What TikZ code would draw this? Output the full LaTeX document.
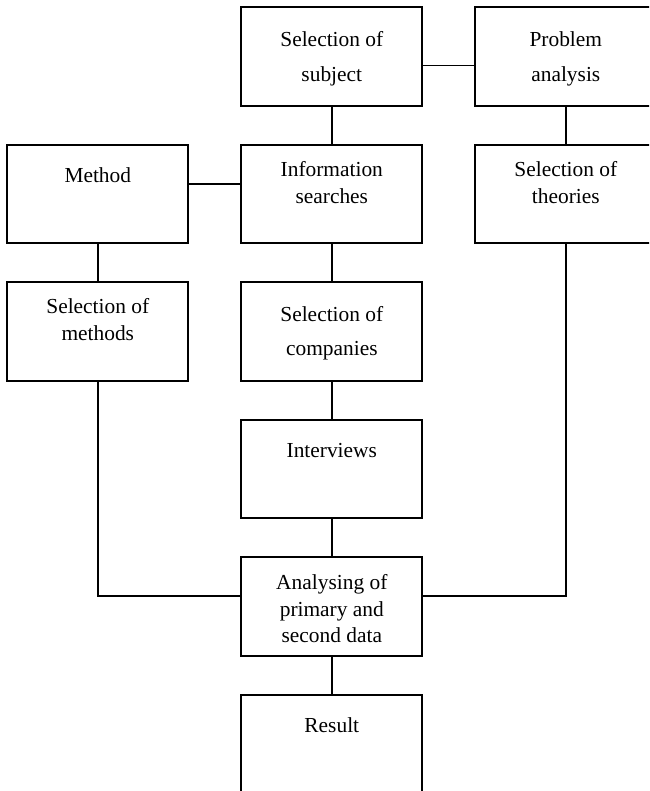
\documentclass[tikz,border=0pt]{standalone}
\usepackage{fontspec}
\setmainfont{Liberation Serif}
\usetikzlibrary{positioning}

\begin{document}
\begin{tikzpicture}
[-,x=1pt,y=-1pt,%
  box/.style={shape=rectangle,draw,line width=1.7pt,outer sep=0pt,inner sep=0pt,%
    minimum width=181pt,minimum height=98.5pt},%
  txt/.style={anchor=base,yshift=-#1,align=center,inner sep=0pt},%
  link/.style={line width=1.7pt},%
  node distance=39pt and 53pt]
\fontsize{21.4}{26.5}\selectfont
\useasboundingbox (0,0) rectangle (649,791);
\clip (0,0) rectangle (649,791);
% boxes
\node[box,anchor=north west] (subject) at (241.3,7.3) {};
\node[box,right=of subject] (problem) {};
\node[box,below=of subject] (info) {};
\node[box,left=of info] (method) {};
\node[box,below=of problem] (theories) {};
\node[box,below=of method] (methods) {};
\node[box,below=of info] (companies) {};
\node[box,below=of companies] (interviews) {};
\node[box,below=of interviews] (analysing) {};
\node[box,below=of analysing] (result) {};
% texts (offset = baseline of last line below the box top)
\node[txt=74pt] (subject-t) at (subject.north) {Selection of\\[8pt]subject};
\node[txt=74pt] (problem-t) at (problem.north) {Problem\\[8pt]analysis};
\node[txt=38pt] (method-t) at (method.north) {Method};
\node[txt=58.5pt] (info-t) at (info.north) {Information\\searches};
\node[txt=58.5pt] (theories-t) at (theories.north) {Selection of\\theories};
\node[txt=58pt] (methods-t) at (methods.north) {Selection of\\methods};
\node[txt=73.5pt] (companies-t) at (companies.north) {Selection of\\[8pt]companies};
\node[txt=38pt] (interviews-t) at (interviews.north) {Interviews};
\node[txt=85.5pt] (analysing-t) at (analysing.north) {Analysing of\\primary and\\second data};
\node[txt=38pt] (result-t) at (result.north) {Result};
% links
\draw[link] ([yshift=-9pt]subject.east) -- ([yshift=-9pt]problem.west);
\draw[link] ([yshift=10pt]method.east) -- ([yshift=10pt]info.west);
\draw[link] (subject) -- (info);
\draw[link] (problem) -- (theories);
\draw[link] (method) -- (methods);
\draw[link] (info) -- (companies);
\draw[link] (companies) -- (interviews);
\draw[link] (interviews) -- (analysing);
\draw[link] (analysing) -- (result);
\draw[link] (methods.south) |- ([yshift=10.5pt]analysing.west);
\draw[link] (theories.south) |- ([yshift=10.5pt]analysing.east);
\end{tikzpicture}
\end{document}
